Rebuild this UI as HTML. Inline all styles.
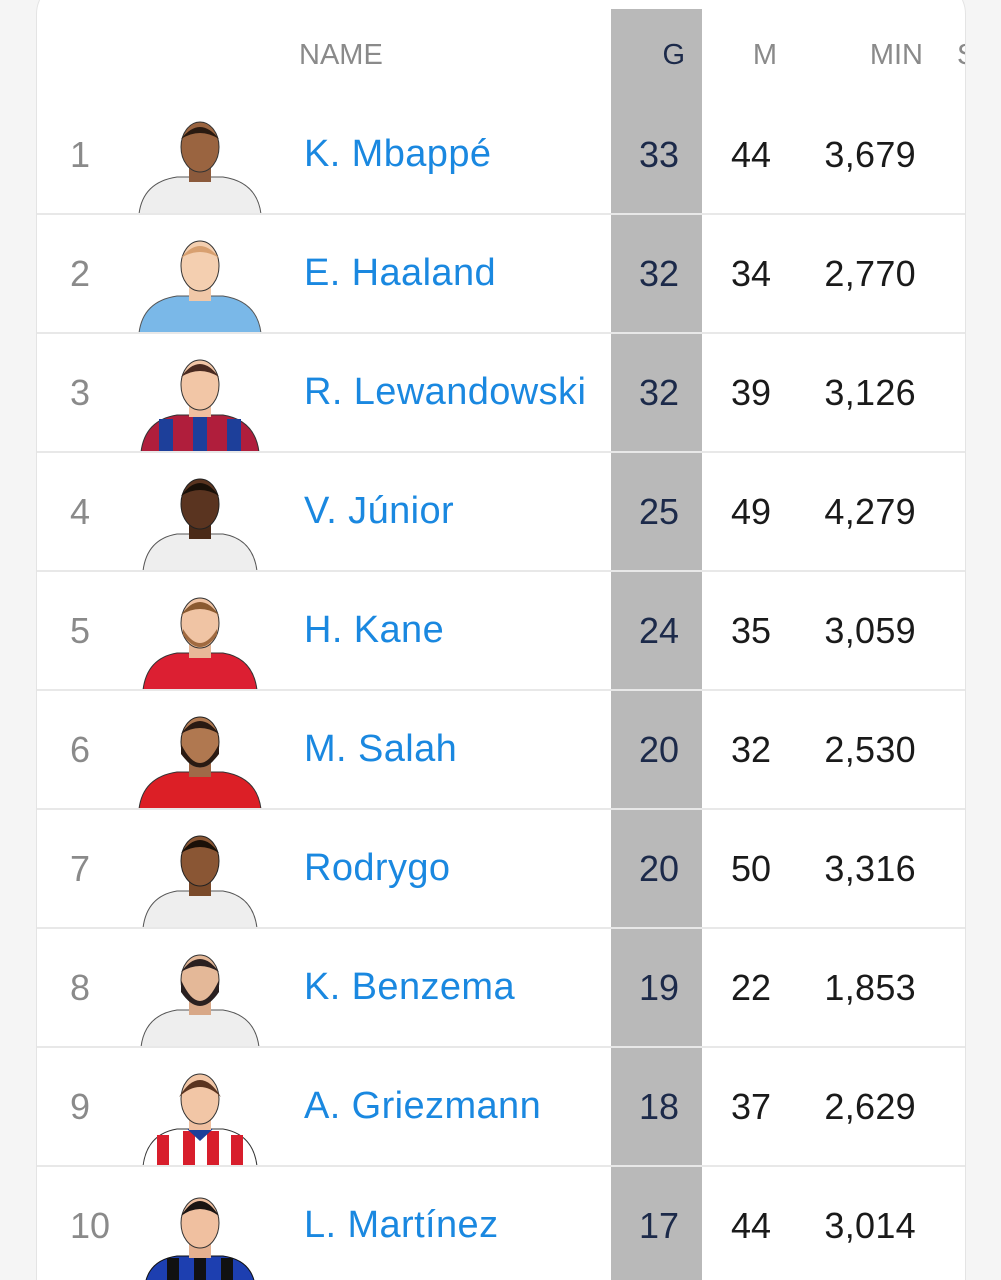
<!DOCTYPE html>
<html><head><meta charset="utf-8"><style>
html,body{margin:0;width:1001px;height:1280px;overflow:hidden}
body{background:#f5f5f5;font-family:"Liberation Sans",sans-serif;position:relative}
.card{position:absolute;left:36px;top:-20px;width:928px;height:1299px;background:#fff;border:1px solid #e4e4e4;border-bottom:none;border-radius:34px 34px 0 0;overflow:hidden}
.band{position:absolute;left:574px;top:28px;width:91px;height:1300px;background:#b9b9b9}
.hd{position:absolute;top:54px;font-size:29px;color:#8a8a8a;line-height:40px}
.row{position:absolute;left:0;width:928px;height:119px}
.sep{position:absolute;left:0;width:928px;height:2px;background:#e8e8e8}
.rk{position:absolute;left:33px;font-size:36px;color:#8a8a8a;top:40px;line-height:40px}
.nm{position:absolute;left:267px;font-size:38px;letter-spacing:0.4px;color:#1a88e0;top:39px;line-height:40px}
.g{position:absolute;right:286px;font-size:36px;color:#1c2a4a;top:40px;line-height:40px}
.m{position:absolute;right:194px;font-size:36px;color:#1a1a1a;top:40px;line-height:40px}
.mn{position:absolute;right:49px;font-size:36px;color:#1a1a1a;top:40px;line-height:40px;letter-spacing:0.3px}
svg.av{position:absolute;left:100px;top:22px}
</style></head><body>
<div class="card">
<div class="band"></div>
<div class="hd" style="left:262px">NAME</div>
<div class="hd" style="right:280px;color:#1c2a4a">G</div>
<div class="hd" style="right:188px">M</div>
<div class="hd" style="right:42px">MIN</div>
<div class="hd" style="left:920px">S</div>

<div class="row" style="top:114px"><div class="rk">1</div>
<svg class="av" width="126" height="97"><path d="M2 97 Q6 65 40 60 L86 60 Q120 65 124 97Z" fill="#eeeeee" stroke="#555"/><rect x="52" y="45" width="22" height="20" fill="#8b5a3c"/><ellipse cx="63" cy="30" rx="19" ry="25" fill="#9a6440" stroke="#333"/><path d="M44 22 Q63 -2 82 22 Q63 10 44 22Z" fill="#2a1a10"/></svg>
<div class="nm">K. Mbappé</div><div class="g">33</div><div class="m">44</div><div class="mn">3,679</div></div>
<div class="sep" style="top:232px"></div>

<div class="row" style="top:233px"><div class="rk">2</div>
<svg class="av" width="126" height="97"><path d="M2 97 Q6 65 40 60 L86 60 Q120 65 124 97Z" fill="#7ab8e8" stroke="#555"/><rect x="52" y="45" width="22" height="20" fill="#f0c8a8"/><ellipse cx="63" cy="30" rx="19" ry="25" fill="#f4cfb0" stroke="#333"/><path d="M44 22 Q63 -2 82 22 Q63 10 44 22Z" fill="#d8a070"/></svg>
<div class="nm">E. Haaland</div><div class="g">32</div><div class="m">34</div><div class="mn">2,770</div></div>
<div class="sep" style="top:351px"></div>

<div class="row" style="top:352px"><div class="rk">3</div>
<svg class="av" width="126" height="97"><path d="M4 97 Q8 65 40 60 L86 60 Q118 65 122 97Z" fill="#b01e3c" stroke="#333"/><rect x="22" y="64" width="14" height="33" fill="#1d3f9a"/><rect x="56" y="60" width="14" height="37" fill="#1d3f9a"/><rect x="90" y="64" width="14" height="33" fill="#1d3f9a"/><rect x="52" y="45" width="22" height="17" fill="#f0c0a0"/><ellipse cx="63" cy="30" rx="19" ry="25" fill="#f2c6a6" stroke="#333"/><path d="M44 22 Q63 -4 82 22 Q63 10 44 22Z" fill="#4a2a20"/></svg>
<div class="nm">R. Lewandowski</div><div class="g">32</div><div class="m">39</div><div class="mn">3,126</div></div>
<div class="sep" style="top:470px"></div>

<div class="row" style="top:471px"><div class="rk">4</div>
<svg class="av" width="126" height="97"><path d="M6 97 Q10 65 40 60 L86 60 Q116 65 120 97Z" fill="#eeeeee" stroke="#555"/><rect x="52" y="45" width="22" height="20" fill="#4a2a18"/><ellipse cx="63" cy="30" rx="19" ry="25" fill="#5a3420" stroke="#222"/><path d="M44 22 Q63 -4 82 22 Q63 10 44 22Z" fill="#1a1008"/></svg>
<div class="nm">V. Júnior</div><div class="g">25</div><div class="m">49</div><div class="mn">4,279</div></div>
<div class="sep" style="top:589px"></div>

<div class="row" style="top:590px"><div class="rk">5</div>
<svg class="av" width="126" height="97"><path d="M6 97 Q10 65 40 60 L86 60 Q116 65 120 97Z" fill="#dc1f32" stroke="#333"/><rect x="52" y="45" width="22" height="20" fill="#e8b898"/><ellipse cx="63" cy="30" rx="19" ry="25" fill="#f0c4a4" stroke="#333"/><path d="M46 36 Q63 64 80 36 L80 42 Q63 66 46 42Z" fill="#a06a40"/><path d="M44 22 Q63 -4 82 22 Q63 10 44 22Z" fill="#8a5a30"/></svg>
<div class="nm">H. Kane</div><div class="g">24</div><div class="m">35</div><div class="mn">3,059</div></div>
<div class="sep" style="top:708px"></div>

<div class="row" style="top:709px"><div class="rk">6</div>
<svg class="av" width="126" height="97"><path d="M2 97 Q6 65 40 60 L86 60 Q120 65 124 97Z" fill="#dc1f26" stroke="#333"/><rect x="52" y="45" width="22" height="20" fill="#a06a48"/><ellipse cx="63" cy="30" rx="19" ry="25" fill="#b07850" stroke="#222"/><path d="M44 32 Q63 70 82 32 L82 42 Q63 68 44 42Z" fill="#2a1a12"/><path d="M44 22 Q63 -4 82 22 Q63 10 44 22Z" fill="#2a1a12"/></svg>
<div class="nm">M. Salah</div><div class="g">20</div><div class="m">32</div><div class="mn">2,530</div></div>
<div class="sep" style="top:827px"></div>

<div class="row" style="top:828px"><div class="rk">7</div>
<svg class="av" width="126" height="97"><path d="M6 97 Q10 65 40 60 L86 60 Q116 65 120 97Z" fill="#eeeeee" stroke="#555"/><rect x="52" y="45" width="22" height="20" fill="#7a4a2a"/><ellipse cx="63" cy="30" rx="19" ry="25" fill="#8a5634" stroke="#222"/><path d="M44 22 Q63 -4 82 22 Q63 10 44 22Z" fill="#1a1008"/></svg>
<div class="nm">Rodrygo</div><div class="g">20</div><div class="m">50</div><div class="mn">3,316</div></div>
<div class="sep" style="top:946px"></div>

<div class="row" style="top:947px"><div class="rk">8</div>
<svg class="av" width="126" height="97"><path d="M4 97 Q8 65 40 60 L86 60 Q118 65 122 97Z" fill="#eeeeee" stroke="#555"/><rect x="52" y="45" width="22" height="20" fill="#d8a888"/><ellipse cx="63" cy="30" rx="19" ry="25" fill="#e4b898" stroke="#333"/><path d="M44 30 Q63 72 82 30 L82 42 Q63 70 44 42Z" fill="#2a2020"/><path d="M44 22 Q63 -4 82 22 Q63 10 44 22Z" fill="#2a2020"/></svg>
<div class="nm">K. Benzema</div><div class="g">19</div><div class="m">22</div><div class="mn">1,853</div></div>
<div class="sep" style="top:1065px"></div>

<div class="row" style="top:1066px"><div class="rk">9</div>
<svg class="av" width="126" height="97"><path d="M6 97 Q10 65 40 60 L86 60 Q116 65 120 97Z" fill="#ffffff" stroke="#333"/><rect x="20" y="66" width="12" height="31" fill="#d81e2c"/><rect x="46" y="62" width="12" height="35" fill="#d81e2c"/><rect x="70" y="62" width="12" height="35" fill="#d81e2c"/><rect x="94" y="66" width="12" height="31" fill="#d81e2c"/><path d="M50 60 L63 72 L76 60Z" fill="#1d3f9a"/><rect x="52" y="45" width="22" height="16" fill="#f0c0a0"/><ellipse cx="63" cy="30" rx="19" ry="25" fill="#f2c6a6" stroke="#333"/><path d="M42 28 Q63 -6 84 28 Q63 8 42 28Z" fill="#5a3420"/></svg>
<div class="nm">A. Griezmann</div><div class="g">18</div><div class="m">37</div><div class="mn">2,629</div></div>
<div class="sep" style="top:1184px"></div>

<div class="row" style="top:1185px"><div class="rk">10</div>
<svg class="av" width="126" height="97"><path d="M8 97 Q12 72 40 68 L86 68 Q114 72 118 97Z" fill="#1d3fb0" stroke="#111"/><rect x="30" y="70" width="12" height="27" fill="#111"/><rect x="57" y="68" width="12" height="29" fill="#111"/><rect x="84" y="70" width="12" height="27" fill="#111"/><rect x="52" y="50" width="22" height="20" fill="#e4b090"/><ellipse cx="63" cy="35" rx="19" ry="25" fill="#f0c0a0" stroke="#333"/><path d="M44 28 Q63 -2 82 28 Q63 14 44 28Z" fill="#1a1412"/></svg>
<div class="nm">L. Martínez</div><div class="g">17</div><div class="m">44</div><div class="mn">3,014</div></div>
</div>
</body></html>
